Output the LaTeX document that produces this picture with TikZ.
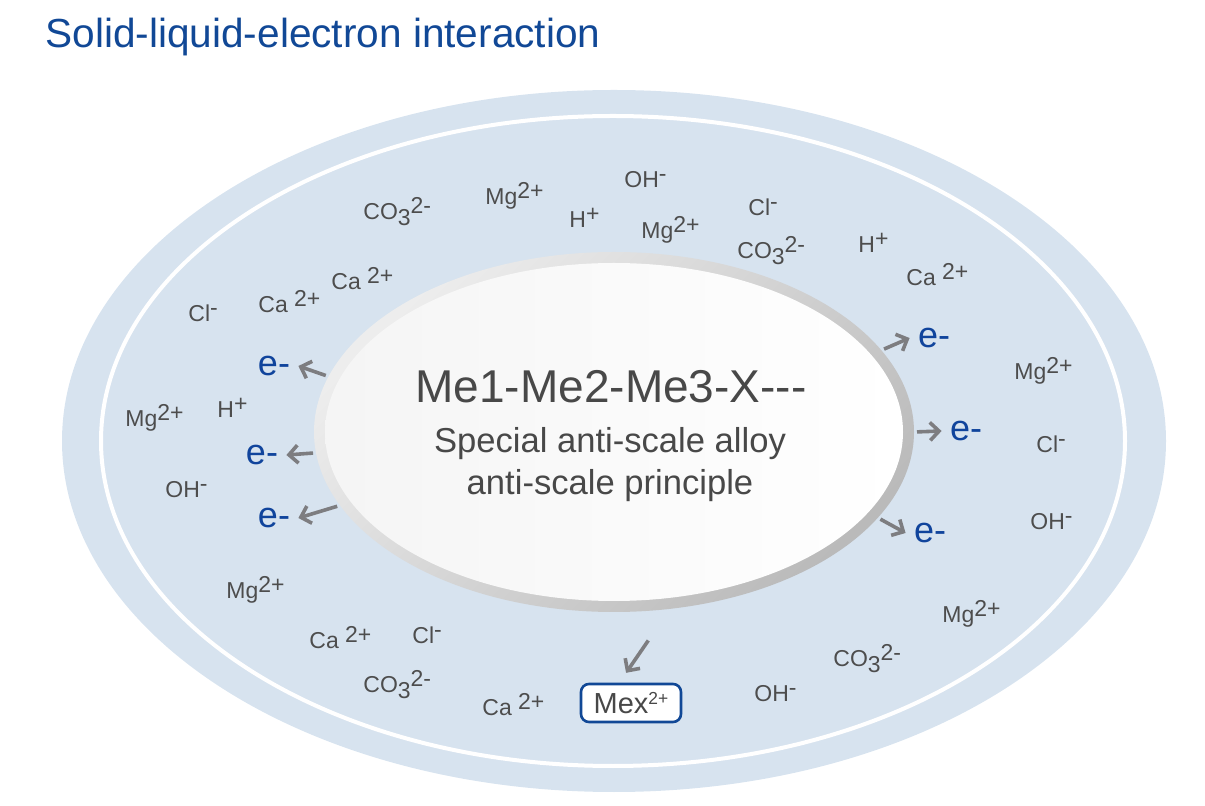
\documentclass[tikz,border=0pt]{standalone}
\usepackage{fontspec}
\setmainfont{Liberation Sans}[Ligatures=TeXOff]
\usepackage{xcolor}
\usepackage{tikz}
\usetikzlibrary{arrows.meta,positioning,shapes.geometric}
\definecolor{poolblue}{RGB}{215,227,239}
\definecolor{titleblue}{RGB}{17,72,150}
\definecolor{eblue}{RGB}{16,68,156}
\definecolor{iongray}{RGB}{77,77,77}
\definecolor{txtgray}{RGB}{72,72,72}
\definecolor{arrowgray}{RGB}{125,125,128}
\newcommand{\chgup}[1]{\raisebox{0.3em}{#1}}
\newcommand{\idxdn}[1]{\raisebox{-0.22em}{#1}}
\tikzset{
  pool/.style={ellipse,fill=poolblue,inner sep=0pt,outer sep=0pt,
               minimum width=552pt,minimum height=351pt},
  alloyring/.style={ellipse,inner sep=0pt,outer sep=0pt,top color=black!7,
               bottom color=black!27,shading angle=45,
               minimum width=300pt,minimum height=180pt},
  alloyface/.style={ellipse,inner sep=0pt,outer sep=0pt,left color=black!4,
               right color=white,minimum width=289pt,minimum height=169pt},
  ion/.style={anchor=base west,inner sep=0pt,text=iongray,
              font=\fontsize{11.5}{13}\selectfont},
  elec/.style={text=eblue,inner xsep=4pt,inner ysep=1pt,
               font=\fontsize{18}{20}\selectfont},
  mexbox/.style={rectangle,rounded corners=4pt,draw=titleblue,line width=1.3pt,
                 fill=white,minimum width=50pt,minimum height=19pt,inner sep=0pt,
                 text=txtgray,font=\fontsize{14.5}{16}\selectfont},
  arr/.style={-{Straight Barb[length=4.5pt,width=9pt]},line width=1.8pt,
              color=arrowgray,shorten <=1.5pt},
}

\begin{document}
\begin{tikzpicture}[x=0.5pt,y=-0.5pt]
  \useasboundingbox (0,0) rectangle (1205,806);

  \node[anchor=base west,inner sep=0pt,text=titleblue,
        font=\fontsize{20.3}{24}\selectfont] (title) at (45,48)
    {Solid-liquid-electron interaction};

  % --- liquid around the alloy ---
  \node[pool] (pool) at (614,441) {};
  \node[ellipse,draw=white,line width=2pt,inner sep=0pt,
        minimum width=512pt,minimum height=325pt] (ring) at (613,441) {};

  % --- alloy ---
  \node[alloyring] (alloy) at (614,432) {};
  \node[alloyface] (face) at (614,432) {};
  \node[anchor=base,text=txtgray,font=\fontsize{23}{26}\selectfont] (alloyname)
    at (611,403) {Me1-Me2-Me3-X---};
  \node[anchor=base,text=txtgray,align=center,
        font=\fontsize{17.3}{21}\selectfont] (alloytxt) at (610,495)
    {Special anti-scale alloy\\anti-scale principle};

  % --- ions, upper half ---
  \node[ion] (co1) at (363,220) {CO\idxdn{3}\chgup{2-}};
  \node[ion] (mg1) at (485,205) {Mg\chgup{2+}};
  \node[ion] (oh1) at (624,188) {OH\chgup{-}};
  \node[ion] (h1)  at (569,228) {H\chgup{+}};
  \node[ion] (mg2) at (641,239) {Mg\chgup{2+}};
  \node[ion] (cl1) at (748,216) {Cl\chgup{-}};
  \node[ion] (co2) at (737,259) {CO\idxdn{3}\chgup{2-}};
  \node[ion] (h2)  at (858,253) {H\chgup{+}};
  \node[ion] (ca1) at (906,286) {Ca \chgup{2+}};
  \node[ion] (ca2) at (331,290) {Ca \chgup{2+}};
  \node[ion] (ca3) at (258,313) {Ca \chgup{2+}};
  \node[ion] (cl2) at (188,322) {Cl\chgup{-}};

  % --- ions, left and lower half ---
  \node[ion] (mg3) at (125,427) {Mg\chgup{2+}};
  \node[ion] (h3)  at (217,418) {H\chgup{+}};
  \node[ion] (oh2) at (165,498) {OH\chgup{-}};
  \node[ion] (mg4) at (226,599) {Mg\chgup{2+}};
  \node[ion] (ca4) at (309,649) {Ca \chgup{2+}};
  \node[ion] (cl3) at (412,644) {Cl\chgup{-}};
  \node[ion] (co3) at (363,693) {CO\idxdn{3}\chgup{2-}};
  \node[ion] (ca5) at (482,716) {Ca \chgup{2+}};

  % --- ions, right half ---
  \node[ion] (mg5) at (1014,380) {Mg\chgup{2+}};
  \node[ion] (cl4) at (1036,453) {Cl\chgup{-}};
  \node[ion] (oh3) at (1030,530) {OH\chgup{-}};
  \node[ion] (mg6) at (942,623)  {Mg\chgup{2+}};
  \node[ion] (co4) at (833,667)  {CO\idxdn{3}\chgup{2-}};
  \node[ion] (oh4) at (754,702)  {OH\chgup{-}};

  % --- electrons leaving the alloy ---
  \node[elec] (e1) at (274,366) {e-};
  \node[elec] (e2) at (262,455) {e-};
  \node[elec] (e3) at (274,518) {e-};
  \node[elec] (e4) at (934,338) {e-};
  \node[elec] (e5) at (966,431) {e-};
  \node[elec] (e6) at (930,533) {e-};

  \draw[arr] (alloy.169) -- (e1.east);
  \draw[arr] (alloy.184) -- (e2.east);
  \draw[arr] (alloy.195) -- (e3.east);
  \draw[arr] (alloy.17)  -- (e4.west);
  \draw[arr] (alloy.0)   -- (e5.west);
  \draw[arr] (alloy.342) -- (e6.west);

  % --- dissolved metal ---
  \node[mexbox] (mex) at (631,703)
    {Mex\raisebox{0.3em}{\fontsize{8.7}{9}\selectfont 2+}};
  \coordinate (mexfrom) at (650,638);
  \draw[arr,shorten >=6pt] (mexfrom) -- (mex.120);
\end{tikzpicture}
\end{document}
